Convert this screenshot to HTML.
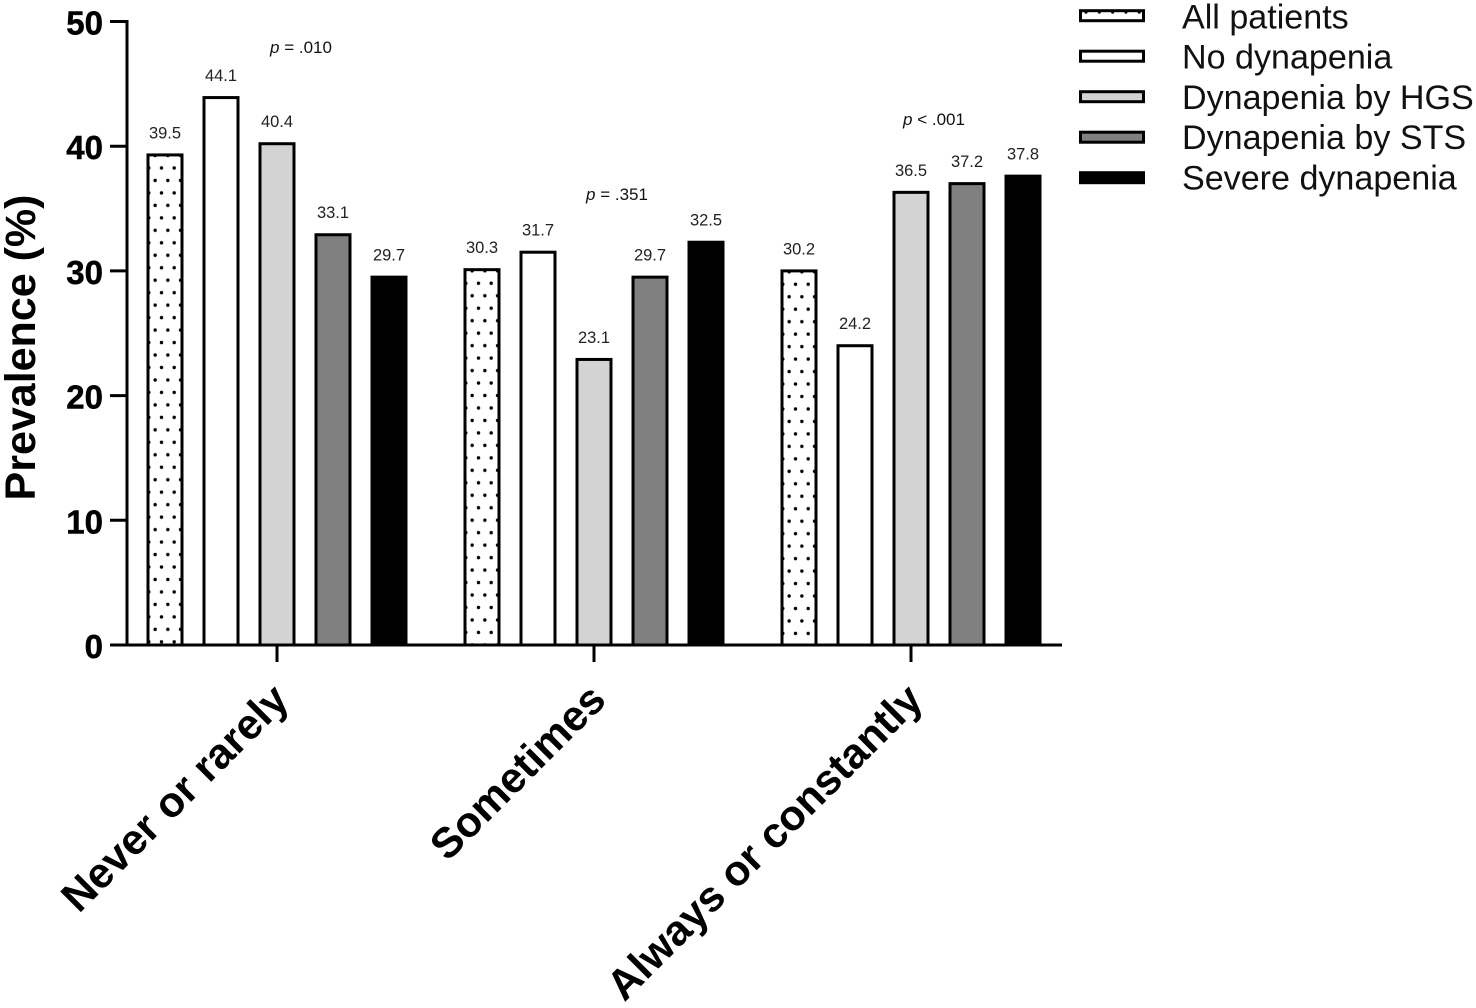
<!DOCTYPE html>
<html lang="en">
<head>
<meta charset="utf-8">
<title>Prevalence by dynapenia group</title>
<style>
html,body{margin:0;padding:0;background:#fff;width:1476px;height:1008px;overflow:hidden}
svg{display:block}
text{font-family:"Liberation Sans",Arial,sans-serif;fill:#000}
.tick{font-size:33px;font-weight:bold;stroke:#000;stroke-width:0.5px}
.cat{font-size:42.5px;font-weight:bold}
.val{font-size:16.5px;fill:#222}
.pv{font-size:17px;fill:#111}
.leg{font-size:34.1px;fill:#111}
</style>
</head>
<body>
<svg id="chart" xmlns="http://www.w3.org/2000/svg" width="1476" height="1008" viewBox="0 0 1476 1008">
  <defs id="defs">
    <pattern id="legendDots" patternUnits="userSpaceOnUse" x="1079.5" y="0" width="13.3" height="40">
      <rect width="13.3" height="40" fill="#fff"/>
      <circle cx="6.5" cy="12.2" r="1.5" fill="#000"/>
    </pattern>
  </defs>
  <g id="bars"></g>
  <g id="axes"></g>
  <text transform="translate(35,347.5) rotate(-90)" text-anchor="middle" font-size="43" font-weight="bold">Prevalence (%)</text>
  <text class="pv" x="301" y="53" text-anchor="middle"><tspan font-style="italic">p</tspan> = .010</text>
  <text class="pv" x="617" y="200" text-anchor="middle"><tspan font-style="italic">p</tspan> = .351</text>
  <text class="pv" x="934" y="125" text-anchor="middle"><tspan font-style="italic">p</tspan> &lt; .001</text>
  <g id="legend"></g>
</svg>
<script>
const categories = ["Never or rarely", "Sometimes", "Always or constantly"];
const seriesNames = ["All patients", "No dynapenia", "Dynapenia by HGS", "Dynapenia by STS", "Severe dynapenia"];
const allPatients = [39.5, 30.3, 30.2];
const noDynapenia = [44.1, 31.7, 24.2];
const dynapeniaByHgs = [40.4, 23.1, 36.5];
const dynapeniaBySts = [33.1, 29.7, 37.2];
const severeDynapenia = [29.7, 32.5, 37.8];
const yTicks = [0, 10, 20, 30, 40, 50];

const seriesValues = [allPatients, noDynapenia, dynapeniaByHgs, dynapeniaBySts, severeDynapenia];
const NS = "http://www.w3.org/2000/svg";

const y0 = 645, yTop = 21.5, yMax = 50;
function yScale(v) { return y0 - (v / yMax) * (y0 - yTop); }
const groupStart = 277, groupStep = 317, barStep = 56, barWidth = 34, barTopInset = 2.5;
function xCenter(g) { return groupStart + g * groupStep; }
function xBar(g, s) { return xCenter(g) + (s - 2) * barStep; }

function make(tag, attrs, parent) {
  const el = document.createElementNS(NS, tag);
  for (const k in attrs) el.setAttribute(k, attrs[k]);
  parent.appendChild(el);
  return el;
}
const defsEl = document.getElementById("defs");
const barsG = document.getElementById("bars");
const axesG = document.getElementById("axes");
const legendG = document.getElementById("legend");

function dotPatternRowY(g) {
  if (g === 0) return 168;
  return g === 1 ? 283.3 : 284.3;
}
function addDotPattern(g) {
  const w = 25.4, h = 24.94;
  const p = make("pattern", {id: "dots" + g, patternUnits: "userSpaceOnUse", x: xBar(g, 0) - 18.5, y: dotPatternRowY(g) - 6, width: w, height: h}, defsEl);
  make("rect", {width: w, height: h, fill: "#fff"}, p);
  [[15, 6], [2.3, 6], [8.65, 18.47], [21.35, 18.47]].forEach(function (d) {
    make("circle", {cx: d[0], cy: d[1], r: 1.7, fill: "#000"}, p);
  });
}
function barFill(s, g) {
  if (s === 0) return "url(#dots" + g + ")";
  return s === 1 ? "#fff" : s === 2 ? "#d3d3d3" : s === 3 ? "#808080" : "#000";
}

categories.forEach(function (c, g) { addDotPattern(g); });

seriesValues.forEach(function (vals, s) {
  vals.forEach(function (v, g) {
    const cx = xBar(g, s), top = yScale(v) + barTopInset;
    const bar = make("rect", {x: cx - barWidth / 2, y: top, width: barWidth, height: y0 - top, fill: barFill(s, g), stroke: "#000", "stroke-width": 3}, barsG);
    
    
    const lab = make("text", {x: cx, y: top - 16.5, "text-anchor": "middle", "class": "val"}, barsG);
    lab.textContent = v.toFixed(1);
    
    
  });
});

const yAxis = make("line", {x1: 127, x2: 127, y1: yScale(yMax) - 1.5, y2: y0 + 1.5, stroke: "#000", "stroke-width": 3}, axesG);


const xAxis = make("line", {x1: 110, x2: 1062, y1: y0, y2: y0, stroke: "#000", "stroke-width": 3}, axesG);



yTicks.forEach(function (t) {
  const y = yScale(t);
  const tk = make("line", {x1: 110, x2: 127, y1: y, y2: y, stroke: "#000", "stroke-width": 3}, axesG);
  
  
  const lab = make("text", {x: 103, y: y + 13, "text-anchor": "end", "class": "tick"}, axesG);
  lab.textContent = String(t);
  
  
});

categories.forEach(function (c, g) {
  const x = xCenter(g);
  const tk = make("line", {x1: x, x2: x, y1: y0, y2: 662, stroke: "#000", "stroke-width": 3}, axesG);
  
  
  const lab = make("text", {transform: "translate(" + (x + 14) + ",702) rotate(-45)", "text-anchor": "end", "class": "cat"}, axesG);
  lab.textContent = c;
  
  
});

seriesNames.forEach(function (name, s) {
  const cy = 15.7 + s * 40.5;
  const sw = make("rect", {x: 1080.5, y: cy - 5, width: 63, height: 10, fill: s === 0 ? "url(#legendDots)" : barFill(s, 0), stroke: "#000", "stroke-width": 3}, legendG);
  
  
  const lab = make("text", {x: 1182, y: 28.5 + s * 40.2, "class": "leg"}, legendG);
  lab.textContent = name;
  
  
});
</script>
</body>
</html>
